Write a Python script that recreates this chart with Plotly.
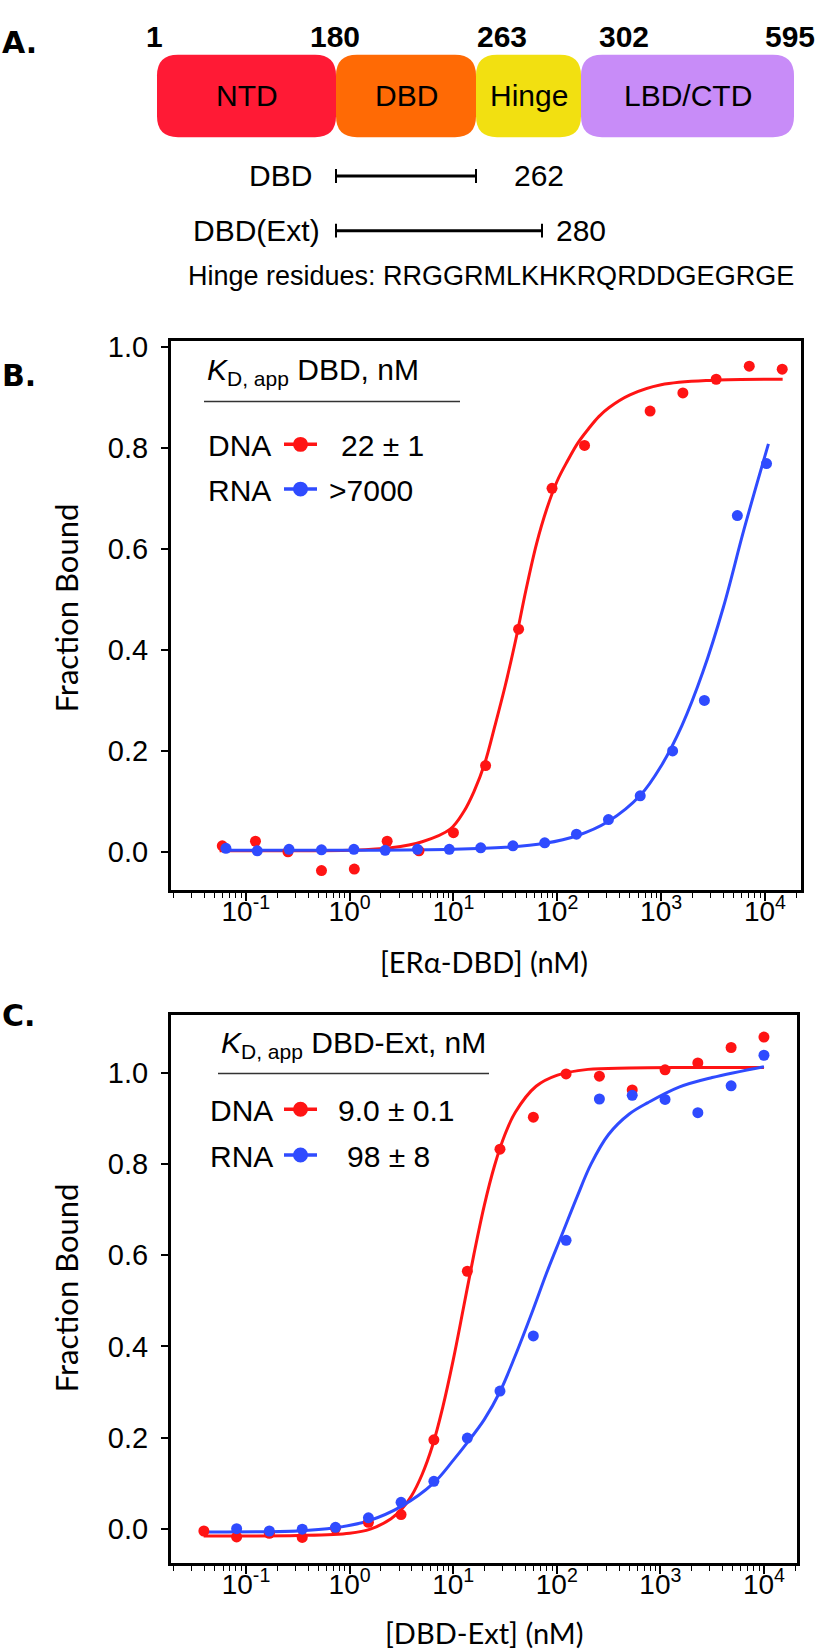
import plotly.graph_objects as go

W, H = 820, 1651

# ---------------- data ----------------
# Panel A: domain architecture
DOMAIN_NAMES = ["NTD", "DBD", "Hinge", "LBD/CTD"]
DOMAIN_COLORS = ["#FF1A35", "#FF6A05", "#F2E011", "#C88CF8"]
RESIDUE_LABELS = ["1", "180", "263", "302", "595"]
CONSTRUCTS = ["DBD", "DBD(Ext)"]
CONSTRUCT_ENDS = ["262", "280"]
HINGE_SEQ = "RRGGRMLKHKRQRDDGEGRGE"

# Panel B: ERα-DBD
B_DNA_X = [0.0594, 0.124, 0.255, 0.536, 1.11, 2.30, 4.66, 10.0, 20.4, 42.4, 89, 183, 783, 1620, 3390, 7060, 14660]
B_DNA_Y = [0.012, 0.021, 0.0, -0.037, -0.034, 0.021, 0.002, 0.038, 0.171, 0.441, 0.72, 0.805, 0.873, 0.909, 0.936, 0.962, 0.956]
B_RNA_X = [0.0644, 0.129, 0.261, 0.536, 1.10, 2.20, 4.50, 9.12, 18.3, 37.4, 75.7, 153, 311, 629, 1290, 2610, 5420, 10350]
B_RNA_Y = [0.007, 0.002, 0.005, 0.004, 0.005, 0.003, 0.005, 0.005, 0.008, 0.012, 0.018, 0.035, 0.064, 0.111, 0.200, 0.300, 0.666, 0.769]
B_DNA_FIT_X = [0.056, 0.3, 1.0, 2.5, 5.0, 9.3, 12.6, 15.8, 20.0, 25.1, 31.6, 39.8, 50.1, 63.1, 79.4, 100, 126, 158, 200, 251, 316, 501, 1000, 3160, 14800]
B_DNA_FIT_Y = [0.002, 0.002, 0.003, 0.008, 0.02, 0.045, 0.08, 0.12, 0.175, 0.25, 0.33, 0.42, 0.52, 0.61, 0.68, 0.735, 0.775, 0.81, 0.838, 0.862, 0.88, 0.905, 0.925, 0.934, 0.936]
B_RNA_FIT_X = [0.06, 1.0, 10, 31.6, 75.9, 155, 309, 631, 1000, 1585, 2512, 3981, 6310, 10800]
B_RNA_FIT_Y = [0.003, 0.003, 0.005, 0.009, 0.017, 0.032, 0.060, 0.112, 0.17, 0.25, 0.355, 0.485, 0.64, 0.808]
B_KD = ["22 ± 1", ">7000"]

# Panel C: DBD-Ext
C_DNA_X = [0.0392, 0.0812, 0.168, 0.349, 0.731, 1.52, 3.14, 6.51, 13.7, 28.3, 59.4, 123, 258, 535, 1110, 2300, 4820, 10000]
C_DNA_Y = [-0.005, -0.018, -0.010, -0.019, 0.001, 0.014, 0.031, 0.195, 0.565, 0.833, 0.903, 0.998, 0.993, 0.963, 1.007, 1.022, 1.056, 1.079]
C_RNA_X = [0.0812, 0.168, 0.349, 0.731, 1.52, 3.14, 6.51, 13.7, 28.3, 59.4, 123, 258, 535, 1110, 2300, 4820, 10000]
C_RNA_Y = [0.0, -0.005, -0.001, 0.003, 0.024, 0.058, 0.104, 0.199, 0.302, 0.423, 0.633, 0.943, 0.951, 0.942, 0.913, 0.972, 1.039]
C_DNA_FIT_X = [0.039, 0.1, 0.316, 1.0, 1.585, 2.512, 3.162, 3.98, 5.01, 6.31, 7.94, 10, 12.6, 15.85, 19.95, 25.1, 31.6, 39.8, 63.1, 100, 200, 501, 1585, 10000]
C_DNA_FIT_Y = [-0.016, -0.016, -0.015, -0.010, -0.001, 0.022, 0.042, 0.073, 0.119, 0.182, 0.267, 0.370, 0.486, 0.602, 0.709, 0.797, 0.865, 0.914, 0.971, 0.995, 1.008, 1.011, 1.012, 1.012]
C_RNA_FIT_X = [0.039, 0.316, 0.724, 1.51, 3.16, 6.46, 10, 13.8, 20, 28.2, 39.8, 58.9, 79.4, 112, 158, 214, 316, 501, 759, 1514, 3162, 10000]
C_RNA_FIT_Y = [-0.007, -0.005, 0.002, 0.017, 0.049, 0.10, 0.15, 0.19, 0.24, 0.30, 0.38, 0.48, 0.56, 0.645, 0.73, 0.80, 0.865, 0.91, 0.935, 0.969, 0.99, 1.014]
C_KD = ["9.0 ± 0.1", "98 ± 8"]

X_TICKVALS = [0.1, 1, 10, 100, 1000, 10000]
X_TICKTEXT = ["10<sup>-1</sup>", "10<sup>0</sup>", "10<sup>1</sup>", "10<sup>2</sup>", "10<sup>3</sup>", "10<sup>4</sup>"]
Y_TICKVALS = [0.0, 0.2, 0.4, 0.6, 0.8, 1.0]

RED = "#FF1414"
BLUE = "#2F4BFF"
FONT = "Liberation Sans"
TITLE_FONT = "Lato"

# ---------------- layout helpers (pixel geometry) ----------------
def px_x(v):
    return v / W

def px_y(v):
    return 1 - v / H

fig = go.Figure()

def add_panel(xs_name, ys_name, dna_x, dna_y, rna_x, rna_y, fdx, fdy, frx, fry):
    common = dict(xaxis=xs_name, yaxis=ys_name, showlegend=False, hoverinfo="skip")
    fig.add_trace(go.Scatter(x=fdx, y=fdy, mode="lines", line=dict(color=RED, width=3, shape="spline"), **common))
    fig.add_trace(go.Scatter(x=frx, y=fry, mode="lines", line=dict(color=BLUE, width=3, shape="spline"), **common))
    fig.add_trace(go.Scatter(x=dna_x, y=dna_y, mode="markers", marker=dict(color=RED, size=11), **common))
    fig.add_trace(go.Scatter(x=rna_x, y=rna_y, mode="markers", marker=dict(color=BLUE, size=11), **common))

add_panel("x", "y", B_DNA_X, B_DNA_Y, B_RNA_X, B_RNA_Y, B_DNA_FIT_X, B_DNA_FIT_Y, B_RNA_FIT_X, B_RNA_FIT_Y)
add_panel("x2", "y2", C_DNA_X, C_DNA_Y, C_RNA_X, C_RNA_Y, C_DNA_FIT_X, C_DNA_FIT_Y, C_RNA_FIT_X, C_RNA_FIT_Y)

xaxis_common = dict(
    type="log", showgrid=False, zeroline=False, showline=True, mirror=True,
    linecolor="black", linewidth=3, ticks="outside", ticklen=8, tickwidth=1.5,
    tickcolor="black", tickvals=X_TICKVALS, ticktext=X_TICKTEXT, ticklabelstandoff=-13,
    tickfont=dict(family=FONT, size=28, color="black"),
    minor=dict(ticks="outside", ticklen=5, tickwidth=1.2, tickcolor="black", dtick="D1", showgrid=False),
)
yaxis_common = dict(
    showgrid=False, zeroline=False, showline=True, mirror=True,
    linecolor="black", linewidth=3, ticks="outside", ticklen=7, tickwidth=1.5,
    tickcolor="black", tickvals=Y_TICKVALS, tickformat=".1f", ticklabelstandoff=7,
    tickfont=dict(family=FONT, size=29, color="black"),
)

fig.update_layout(
    width=W, height=H, autosize=False,
    margin=dict(l=0, r=0, t=0, b=0, pad=0),
    paper_bgcolor="white", plot_bgcolor="rgba(0,0,0,0)",
    xaxis=dict(domain=[px_x(171), px_x(801)], range=[-1.72, 4.347], anchor="y", **xaxis_common),
    yaxis=dict(domain=[px_y(885), px_y(333)], range=[-0.0748, 1.0118], anchor="x", **yaxis_common),
    xaxis2=dict(domain=[px_x(171), px_x(797)], range=[-1.724, 4.319], anchor="y2", **xaxis_common),
    yaxis2=dict(domain=[px_y(1562), px_y(1011)], range=[-0.0742, 1.1276], anchor="x2", **yaxis_common),
    # full-figure pixel coordinate system for the schematic, labels and legends
    xaxis3=dict(domain=[0, 1], range=[0, W], visible=False, anchor="y3", fixedrange=True),
    yaxis3=dict(domain=[0, 1], range=[H, 0], visible=False, anchor="x3", fixedrange=True),
)
# dummy trace to activate the pixel subplot
fig.add_trace(go.Scatter(x=[0], y=[0], xaxis="x3", yaxis="y3", mode="markers",
                         marker=dict(size=1, color="rgba(0,0,0,0)"), showlegend=False, hoverinfo="skip"))

shapes = []
annos = []

def text(x, y, s, size, anchor="center", bold=False, family=FONT, angle=0):
    annos.append(dict(x=x, y=y, xref="x3", yref="y3", text=("<b>%s</b>" % s) if bold else s,
                      showarrow=False, xanchor=anchor, yanchor="middle", textangle=angle,
                      font=dict(family=family, size=size, color="black")))

def rounded_rect(x0, x1, y0, y1, r, color):
    p = (f"M {x0+r},{y0} L {x1-r},{y0} Q {x1},{y0} {x1},{y0+r} L {x1},{y1-r} Q {x1},{y1} {x1-r},{y1} "
         f"L {x0+r},{y1} Q {x0},{y1} {x0},{y1-r} L {x0},{y0+r} Q {x0},{y0} {x0+r},{y0} Z")
    shapes.append(dict(type="path", path=p, xref="x3", yref="y3", fillcolor=color, line=dict(width=0)))

# ---------------- Panel A ----------------
SCHEM_EDGES = [157, 336, 476, 581, 794]      # schematic (not to scale) box edges, px
SCHEM_TOP, SCHEM_BOT = 45, 128
for i, (name, col) in enumerate(zip(DOMAIN_NAMES, DOMAIN_COLORS)):
    x0, x1 = SCHEM_EDGES[i], SCHEM_EDGES[i + 1]
    rounded_rect(x0, x1, SCHEM_TOP, SCHEM_BOT, 21, col)
    text((x0 + x1) / 2, 86, name, 30)

RES_LABEL_X = [154, 335, 502, 624, 790]
for lab, x in zip(RESIDUE_LABELS, RES_LABEL_X):
    text(x, 27, lab, 30, bold=True)

CONSTRUCT_Y = [167, 222]
CONSTRUCT_X1 = [476, 542]
CONSTRUCT_LABEL_RIGHT = [314, 322]
CONSTRUCT_END_X = [539, 581]
for name, end, y, x1, lr, ex in zip(CONSTRUCTS, CONSTRUCT_ENDS, CONSTRUCT_Y, CONSTRUCT_X1,
                                    CONSTRUCT_LABEL_RIGHT, CONSTRUCT_END_X):
    x0 = SCHEM_EDGES[1]
    shapes.append(dict(type="line", x0=x0, x1=x1, y0=y, y1=y, xref="x3", yref="y3", line=dict(color="black", width=3)))
    for xe in (x0, x1):
        shapes.append(dict(type="line", x0=xe, x1=xe, y0=y - 7, y1=y + 7, xref="x3", yref="y3",
                           line=dict(color="black", width=2)))
    text(lr, y, name, 30, anchor="right")
    text(ex, y, end, 30)

text(491, 268, "Hinge residues: " + HINGE_SEQ, 27)

# panel letters
text(0, 33, "A.", 30, anchor="left", bold=True, family="DejaVu Sans")
text(0, 368, "B.", 30, anchor="left", bold=True, family="DejaVu Sans")
text(0, 1012, "C.", 30, anchor="left", bold=True, family="DejaVu Sans")

# axis titles
text(66, 602, "Fraction Bound", 31, family=TITLE_FONT, angle=-90)
text(66, 1286, "Fraction Bound", 31, family=TITLE_FONT, angle=-90)
text(484, 957, "[ERα-DBD] (nM)", 29, family=TITLE_FONT)
text(484, 1632, "[DBD-Ext] (nM)", 29, family=TITLE_FONT)

# legends
def legend(title, tx, ty, ul0, ul1, uly, rows):
    text(tx, ty, title, 30, anchor="left")
    shapes.append(dict(type="line", x0=ul0, x1=ul1, y0=uly, y1=uly, xref="x3", yref="y3",
                       line=dict(color="#333333", width=1.5)))
    for lab, col, y, lx, kd, kx in rows:
        text(lx, y, lab, 30, anchor="left")
        shapes.append(dict(type="line", x0=284, x1=317, y0=y - 1, y1=y - 1, xref="x3", yref="y3",
                           line=dict(color=col, width=3.5)))
        shapes.append(dict(type="circle", x0=293, x1=308, y0=y - 8.5, y1=y + 6.5, xref="x3", yref="y3",
                           fillcolor=col, line=dict(width=0)))
        text(kx, y, kd, 30, anchor="left")

legend("<i>K</i><sub>D, app</sub> DBD, nM", 205, 364, 204, 460, 394,
       [("DNA", RED, 438, 206, B_KD[0], 339), ("RNA", BLUE, 483, 206, B_KD[1], 327)])
legend("<i>K</i><sub>D, app</sub> DBD-Ext, nM", 219, 1041, 218, 489, 1070,
       [("DNA", RED, 1107, 208, C_KD[0], 336), ("RNA", BLUE, 1153, 208, C_KD[1], 345)])

fig.update_layout(shapes=shapes, annotations=annos)
fig.write_html("out.html", config={"displayModeBar": False},
               post_script="document.body.style.margin='0px';document.body.style.overflow='hidden';")
